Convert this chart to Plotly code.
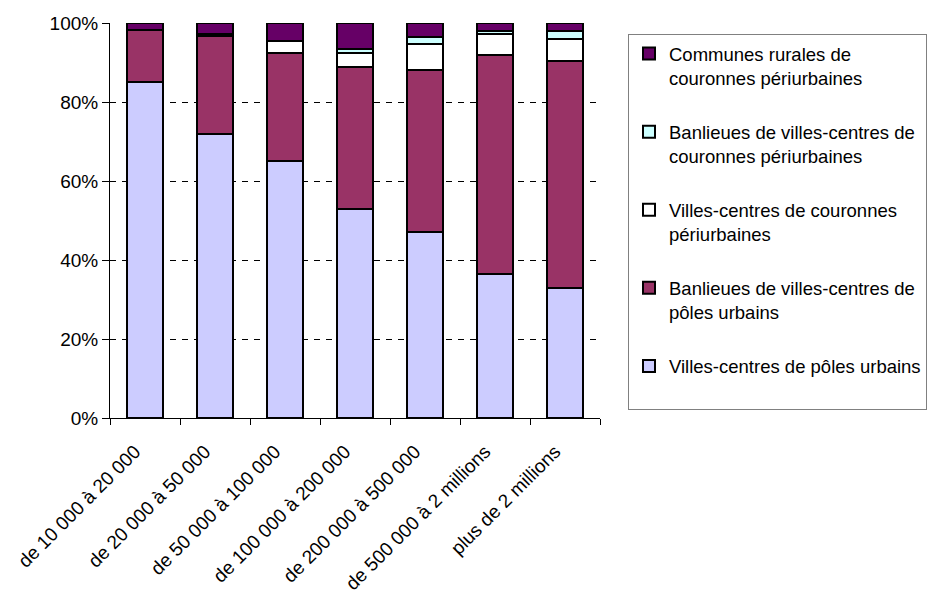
import plotly.graph_objects as go

categories = ["de 10 000 à 20 000", "de 20 000 à 50 000", "de 50 000 à 100 000",
              "de 100 000 à 200 000", "de 200 000 à 500 000",
              "de 500 000 à 2 millions", "plus de 2 millions"]

villes_centres_poles = [85.0, 72.0, 65.0, 53.0, 47.0, 36.5, 32.8]
banlieues_poles = [13.2, 24.7, 27.5, 35.8, 41.2, 55.4, 57.5]
villes_centres_couronnes = [0.0, 0.6, 3.0, 3.7, 6.5, 5.3, 5.7]
banlieues_couronnes = [0.0, 0.0, 0.0, 0.8, 1.7, 0.8, 1.9]
communes_rurales = [1.8, 2.7, 4.5, 6.7, 3.6, 2.0, 2.1]

y_tick_vals = [0, 20, 40, 60, 80, 100]
y_tick_text = ["0%", "20%", "40%", "60%", "80%", "100%"]

series_names = ["Villes-centres de pôles urbains<br> ",
                "Banlieues de villes-centres de<br>pôles urbains",
                "Villes-centres de couronnes<br>périurbaines",
                "Banlieues de villes-centres de<br>couronnes périurbaines",
                "Communes rurales de<br>couronnes périurbaines"]
series_values = [villes_centres_poles, banlieues_poles, villes_centres_couronnes,
                 banlieues_couronnes, communes_rurales]
series_colors = ["#CCCCFF", "#993366", "#FFFFFF", "#CCFFFF", "#660066"]

FONT = "Liberation Sans, Arial, sans-serif"

fig = go.Figure()
n = len(series_names)
for i, (name, vals, col) in enumerate(zip(series_names, series_values, series_colors)):
    fig.add_trace(go.Bar(
        x=categories, y=vals, name=name,
        marker=dict(color=col, line=dict(color="black", width=2)),
        width=0.51, legendgroup=f"g{i}", legendrank=n - i,
    ))

fig.update_layout(
    barmode="stack",
    width=930, height=597,
    margin=dict(l=110, r=330, t=23, b=179, autoexpand=False),
    paper_bgcolor="white", plot_bgcolor="white",
    font=dict(family=FONT, size=19, color="black"),
    showlegend=True,
    legend=dict(
        xref="container", yref="container",
        x=628 / 930, y=1 - 34 / 597, xanchor="left", yanchor="top",
        traceorder="grouped", tracegroupgap=27, valign="top",
        bordercolor="#808080", borderwidth=1, bgcolor="white",
        font=dict(family=FONT, size=18.5, color="black"),
        itemwidth=30, maxheight=560,
    ),
    xaxis=dict(
        tickangle=-45, showgrid=False, showline=True, linecolor="black", linewidth=1,
        ticks="outside", ticklen=6, tickcolor="black", tickson="boundaries",
        ticklabelstandoff=14, ticklabelshift=-10,
        tickfont=dict(family=FONT, size=19, color="black"),
    ),
    yaxis=dict(
        range=[0, 100], tickvals=y_tick_vals, ticktext=y_tick_text,
        showline=True, linecolor="black", linewidth=1,
        ticks="outside", ticklen=7, tickcolor="black",
        showgrid=True, gridcolor="black", gridwidth=1, griddash="6px,6px",
        zeroline=False,
        tickfont=dict(family=FONT, size=19, color="black"),
    ),
)

fig.write_html("out.html")
